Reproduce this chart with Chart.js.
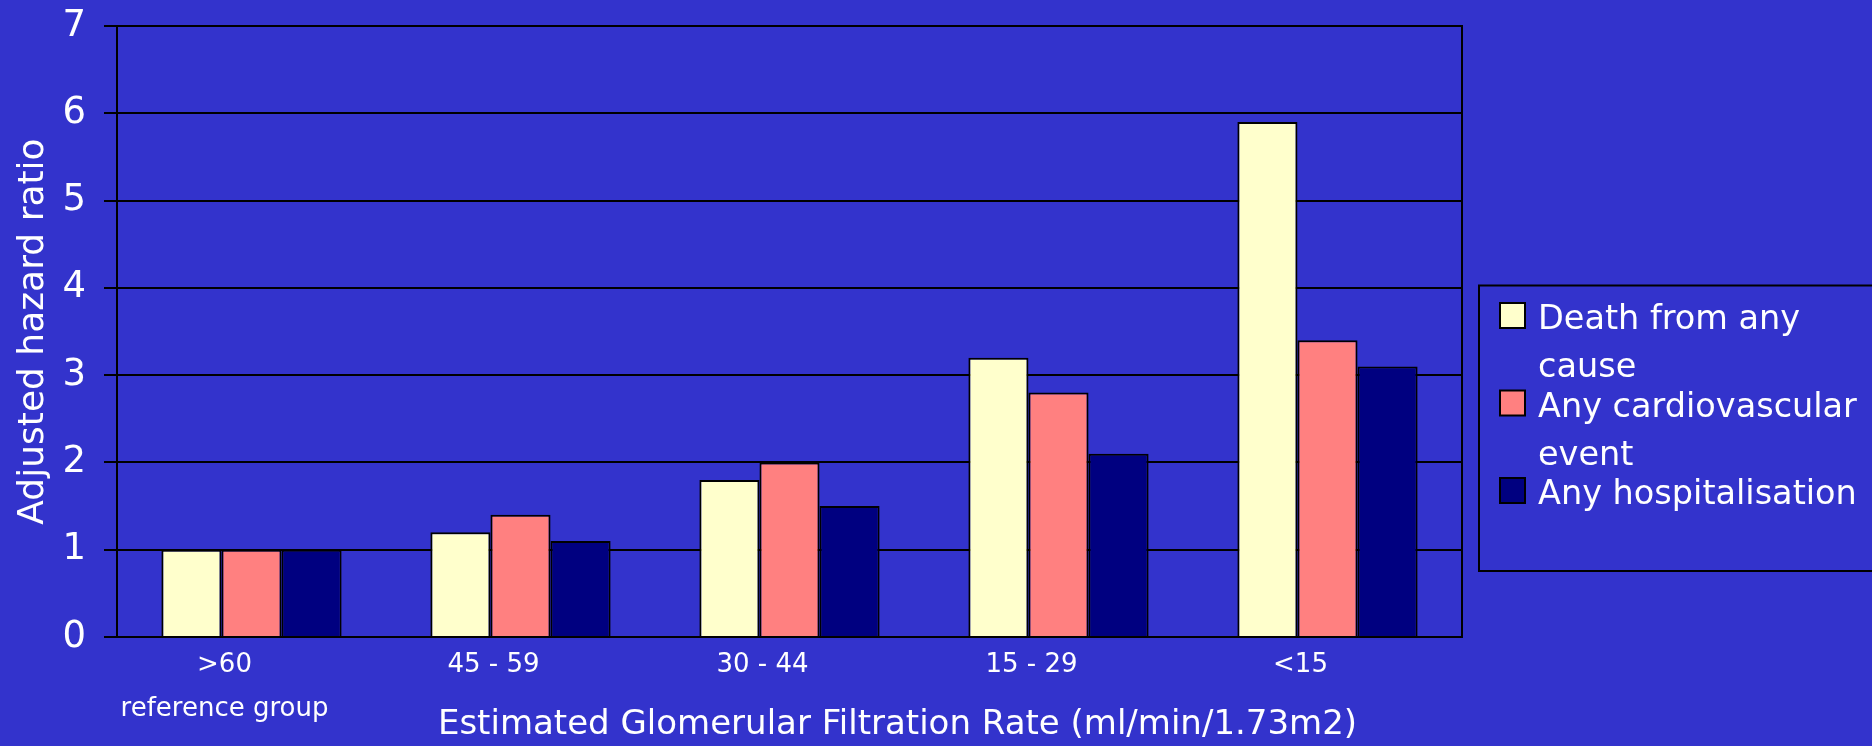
<!DOCTYPE html>
<html>
<head>
<meta charset="utf-8">
<title>Adjusted hazard ratio by eGFR</title>
<script src="https://cdn.jsdelivr.net/npm/chart.js@4/dist/chart.umd.min.js"></script>
<style>
  html, body { margin: 0; padding: 0; background: #3333CC; overflow: hidden; }
  canvas { display: block; }
</style>
</head>
<body>
<canvas id="chart" width="1872" height="746"></canvas>
<script>
// eGFR bands (ml/min/1.73m2)
const categories = [[">60", "reference group"], "45 - 59", "30 - 44", "15 - 29", "<15"];

// Series names
const seriesNames = ["Death from any cause", "Any cardiovascular event", "Any hospitalisation"];

// Adjusted hazard ratios per band
const deathAnyCause = [1.0, 1.2, 1.8, 3.2, 5.9];
const cardiovascularEvent = [1.0, 1.4, 2.0, 2.8, 3.4];
const hospitalisation = [1.0, 1.1, 1.5, 2.1, 3.1];

// Value axis ticks
const yTicks = [0, 1, 2, 3, 4, 5, 6, 7];

const yAxisTitle = "Adjusted hazard ratio";
const xAxisTitle = "Estimated Glomerular Filtration Rate (ml/min/1.73m2)";

const seriesColors = ["#FFFFCC", "#FF8080", "#000080"];
const FONT = "'DejaVu Sans', 'Noto Sans', sans-serif";

// Right-hand frame line of the plot area
const frameLine = {
  id: 'frameLine',
  beforeDatasetsDraw(chart) {
    const { ctx, chartArea: ca } = chart;
    ctx.save();
    ctx.strokeStyle = '#000';
    ctx.lineWidth = 2;
    ctx.beginPath();
    ctx.moveTo(ca.right, ca.top - 1);
    ctx.lineTo(ca.right, ca.bottom);
    ctx.stroke();
    ctx.restore();
  }
};

// Bottom axis title, set to the right of the plot centre
const bottomTitle = {
  id: 'bottomTitle',
  afterDraw(chart) {
    const { ctx, chartArea: ca } = chart;
    ctx.save();
    ctx.fillStyle = '#fff';
    ctx.font = `34px ${FONT}`;
    ctx.textAlign = 'center';
    ctx.textBaseline = 'middle';
    ctx.fillText(xAxisTitle, (ca.left + ca.right) / 2 + 108, 725);
    ctx.restore();
  }
};

// Framed legend to the right of the plot, with wrapped labels
const boxLegend = {
  id: 'boxLegend',
  afterDraw(chart) {
    const { ctx, chartArea: ca } = chart;
    const boxL = ca.right + 17, boxT = 285.5, boxB = 571;
    const markX = ca.right + 38, textX = ca.right + 76, maxW = 336;
    ctx.save();
    ctx.strokeStyle = '#000';
    ctx.lineWidth = 2;
    ctx.strokeRect(boxL, boxT, chart.width - boxL + 10, boxB - boxT);
    ctx.font = `33.5px ${FONT}`;
    ctx.textAlign = 'left';
    ctx.textBaseline = 'alphabetic';
    chart.data.datasets.forEach((ds, i) => {
      const cy = 315 + i * 87.5;
      ctx.fillStyle = ds.backgroundColor;
      ctx.fillRect(markX, cy - 12, 25, 25);
      ctx.strokeStyle = '#000';
      ctx.lineWidth = 2;
      ctx.strokeRect(markX, cy - 12, 25, 25);
      // word-wrap the label
      const words = ds.label.split(' ');
      const lines = [];
      let cur = '';
      words.forEach(w => {
        const t = cur ? cur + ' ' + w : w;
        if (ctx.measureText(t).width > maxW && cur) { lines.push(cur); cur = w; }
        else cur = t;
      });
      if (cur) lines.push(cur);
      ctx.fillStyle = '#fff';
      lines.forEach((ln, k) => ctx.fillText(ln, textX, cy + 14 + k * 48));
    });
    ctx.restore();
  }
};

const seriesData = [deathAnyCause, cardiovascularEvent, hospitalisation];

new Chart(document.getElementById('chart'), {
  type: 'bar',
  data: {
    labels: categories,
    datasets: seriesData.map((vals, i) => ({
      label: seriesNames[i],
      data: vals,
      backgroundColor: seriesColors[i],
      borderColor: '#000',
      borderWidth: 2,
      categoryPercentage: 0.67,
      barPercentage: 1.0
    }))
  },
  options: {
    responsive: false,
    animation: false,
    devicePixelRatio: 1,
    layout: { padding: { top: 26, right: 410, bottom: 0, left: 0 } },
    plugins: {
      legend: { display: false },
      tooltip: { enabled: false }
    },
    scales: {
      x: {
        grid: { display: false, drawTicks: false },
        border: { display: true, color: '#000', width: 2 },
        ticks: {
          color: '#fff',
          font: { family: FONT, size: 26, lineHeight: 1.7 },
          padding: 6,
          labelOffset: -27,
          maxRotation: 0,
          autoSkip: false
        },
        afterFit(scale) {
          scale.height = 109;
          scale.paddingLeft = 0;
          scale.paddingRight = 0;
        }
      },
      y: {
        min: 0,
        max: 7,
        afterBuildTicks(scale) { scale.ticks = yTicks.map(v => ({ value: v })); },
        grid: { color: '#000', lineWidth: 2, tickLength: 13, drawTicks: true },
        border: { color: '#000', width: 2 },
        ticks: {
          color: '#fff',
          font: { family: FONT, size: 37 },
          padding: 18
        },
        title: {
          display: true,
          text: yAxisTitle,
          color: '#fff',
          font: { family: FONT, size: 36 },
          padding: { top: 12, bottom: 0 }
        },
        afterFit(scale) {
          scale.width = 117;
          scale.paddingTop = 0;
          scale.paddingBottom = 0;
        }
      }
    }
  },
  plugins: [frameLine, bottomTitle, boxLegend]
});
</script>
</body>
</html>
